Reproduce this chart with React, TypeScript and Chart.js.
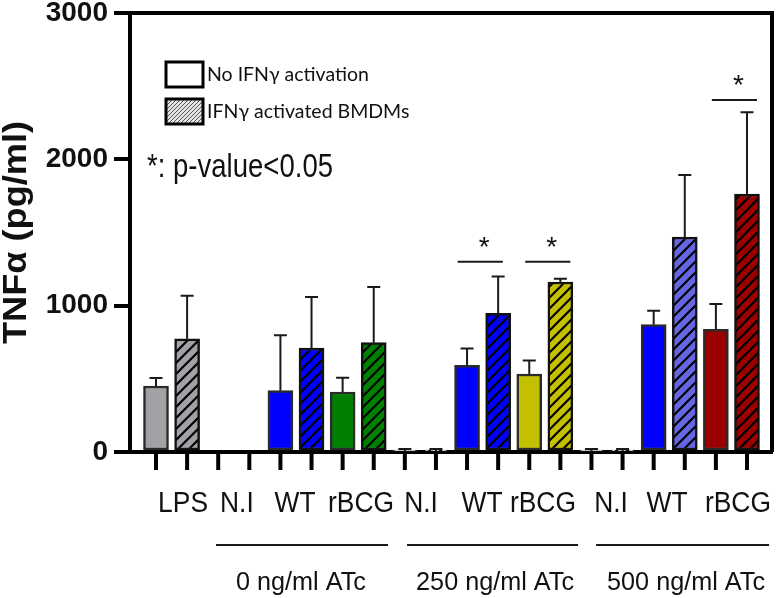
import { useEffect, useRef } from 'react';
import { Chart, registerables } from 'chart.js';

Chart.register(...registerables);

// ---- data ----
const groupNames = ['LPS', 'N.I', 'WT', 'rBCG', 'N.I', 'WT', 'rBCG', 'N.I', 'WT', 'rBCG'];
const groupLabelPos = [0.87, 2.6, 4.47, 6.59, 8.52, 10.48, 12.44, 14.63, 16.43, 18.71];
const noIfnMean = [451, 0, 419, 410, 5, 592, 533, 5, 870, 838];
const noIfnSD = [55, 0, 378, 98, 15, 116, 93, 15, 96, 173];
const ifnMean = [774, 0, 711, 747, 5, 948, 1162, 5, 1469, 1763];
const ifnSD = [294, 0, 348, 381, 15, 252, 22, 15, 424, 558];
const solidColors = ['#a2a2a6', '#ffffff', '#0000ff', '#008000', '#ffffff', '#0000ff', '#c4c000', '#ffffff', '#0000ff', '#9a0000'];
const hatchColors = ['#a2a2a6', '#ffffff', '#0000ff', '#008000', '#ffffff', '#0000ff', '#c4c000', '#ffffff', '#6666e4', '#9a0000'];
const atcLabels = ['0 ng/ml ATc', '250 ng/ml ATc', '500 ng/ml ATc'];
const atcSpans = [[1.93, 7.46], [8.07, 13.57], [14.15, 19.71]];
const atcLabelPos = [4.66, 10.9, 17.04];
const sigSpans = [[9.7, 11.15], [11.87, 13.32], [17.87, 19.32]];
const sigLevels = [1300, 1300, 2405];
const yTicks = [0, 1000, 2000, 3000];
const legendLabels = ['No IFN\u03b3 activation', 'IFN\u03b3 activated BMDMs'];
const yTitle = 'TNF\u03b1 (pg/ml)';
const noteText = '*: p-value<0.05';

function hatchPattern(color: string, tile: number, stroke: string, lw: number) {
  const c = document.createElement('canvas');
  c.width = tile;
  c.height = tile;
  const g = c.getContext('2d')!;
  g.fillStyle = color;
  g.fillRect(0, 0, tile, tile);
  g.strokeStyle = stroke;
  g.lineWidth = lw;
  g.beginPath();
  g.moveTo(-tile, tile * 2); g.lineTo(tile * 2, -tile);
  g.moveTo(-tile, tile); g.lineTo(tile, -tile);
  g.moveTo(0, tile * 2); g.lineTo(tile * 2, 0);
  g.stroke();
  return g.createPattern(c, 'repeat')!;
}

function drawText(ctx: CanvasRenderingContext2D, s: string, x: number, y: number, font: string, align: CanvasTextAlign, sx = 1) {
  ctx.save();
  ctx.font = font;
  ctx.translate(x, y);
  ctx.scale(sx, 1);
  ctx.textAlign = align;
  ctx.textBaseline = 'alphabetic';
  ctx.fillStyle = '#111';
  ctx.fillText(s, 0, 0);
  ctx.restore();
}

export default function App() {
  const ref = useRef<HTMLCanvasElement>(null);
  useEffect(() => {
    const canvas = ref.current!;
    const points: { x: number; y: number }[] = [];
    const fills: (string | CanvasPattern)[] = [];
    const borders: string[] = [];
    const sds: number[] = [];
    for (let g = 0; g < groupNames.length; g++) {
      points.push({ x: 2 * g, y: noIfnMean[g] });
      fills.push(solidColors[g]);
      borders.push('#2a2a2a');
      sds.push(noIfnSD[g]);
      points.push({ x: 2 * g + 1, y: ifnMean[g] });
      fills.push(hatchPattern(hatchColors[g], 11, '#000', 2.2));
      borders.push('#111');
      sds.push(ifnSD[g]);
    }

    const overlay = {
      id: 'overlay',
      afterDatasetsDraw(chart: any) {
        const { ctx, chartArea: a, scales } = chart;
        const x = scales.x, y = scales.y;
        ctx.save();
        // error bars
        ctx.strokeStyle = '#1a1a1a';
        ctx.lineWidth = 2;
        points.forEach((p, i) => {
          if (sds[i] <= 0) return;
          const px = x.getPixelForValue(p.x);
          const y0 = y.getPixelForValue(p.y);
          const y1 = y.getPixelForValue(p.y + sds[i]);
          ctx.beginPath();
          ctx.moveTo(px, y0);
          ctx.lineTo(px, y1);
          ctx.moveTo(px - 6.5, y1);
          ctx.lineTo(px + 6.5, y1);
          ctx.stroke();
        });
        // significance
        sigSpans.forEach((s, i) => {
          const yy = y.getPixelForValue(sigLevels[i]);
          const x0 = x.getPixelForValue(s[0]);
          const x1 = x.getPixelForValue(s[1]);
          ctx.beginPath();
          ctx.moveTo(x0, yy);
          ctx.lineTo(x1, yy);
          ctx.stroke();
          drawText(ctx, '*', (x0 + x1) / 2 + 4, yy - 6, '28px "Liberation Sans"', 'center');
        });
        // frame top & right
        ctx.strokeStyle = '#000';
        ctx.lineWidth = 4;
        ctx.beginPath();
        ctx.moveTo(a.left - 2, a.top);
        ctx.lineTo(a.right, a.top);
        ctx.lineTo(a.right, a.bottom);
        ctx.stroke();
        // x tick marks
        points.forEach((p) => {
          const px = x.getPixelForValue(p.x);
          ctx.beginPath();
          ctx.moveTo(px, a.bottom);
          ctx.lineTo(px, a.bottom + 18);
          ctx.stroke();
        });
        // category labels
        groupNames.forEach((n, i) => {
          drawText(ctx, n, x.getPixelForValue(groupLabelPos[i]), a.bottom + 60, '30px "Liberation Sans"', 'center', 0.88);
        });
        // ATc groups
        ctx.strokeStyle = '#1a1a1a';
        ctx.lineWidth = 2;
        atcSpans.forEach((s, i) => {
          const x0 = x.getPixelForValue(s[0]);
          const x1 = x.getPixelForValue(s[1]);
          ctx.beginPath();
          ctx.moveTo(x0, a.bottom + 93);
          ctx.lineTo(x1, a.bottom + 93);
          ctx.stroke();
          drawText(ctx, atcLabels[i], x.getPixelForValue(atcLabelPos[i]), a.bottom + 138, '26px "Liberation Sans"', 'center', 0.97);
        });
        // y title
        ctx.save();
        ctx.font = 'bold 34px "Liberation Sans"';
        const w = ctx.measureText(yTitle).width;
        ctx.translate(26, (a.top + a.bottom) / 2);
        ctx.rotate(-Math.PI / 2);
        ctx.scale(223 / w, 1);
        ctx.textAlign = 'center';
        ctx.textBaseline = 'alphabetic';
        ctx.fillStyle = '#111';
        ctx.fillText(yTitle, 0, 0);
        ctx.restore();
        // legend
        const boxX = a.left + 36;
        const boxYs = [a.top + 49, a.top + 86];
        const fillsL = ['#ffffff', hatchPattern('#e4e4e4', 4, '#555', 1)];
        boxYs.forEach((by, i) => {
          ctx.fillStyle = fillsL[i];
          ctx.fillRect(boxX, by, 37, 25);
          ctx.strokeStyle = '#000';
          ctx.lineWidth = 3;
          ctx.strokeRect(boxX, by, 37, 25);
          drawText(ctx, legendLabels[i], boxX + 41, by + 19, '19.5px Lato', 'left', 1);
        });
        drawText(ctx, noteText, a.left + 17, a.top + 164, '34px "Liberation Sans"', 'left', 0.81);
        ctx.restore();
      },
    };

    const chart = new Chart(canvas, {
      type: 'bar',
      data: {
        datasets: [
          {
            data: points as any,
            backgroundColor: fills as any,
            borderColor: borders,
            borderWidth: 2.5,
            barThickness: 25,
            borderSkipped: false,
          },
        ],
      },
      options: {
        responsive: false,
        animation: false,
        devicePixelRatio: 1,
        layout: { padding: { top: 13, right: 4, left: 0, bottom: 0 } },
        plugins: { legend: { display: false }, tooltip: { enabled: false } },
        scales: {
          x: {
            type: 'linear',
            offset: false,
            min: -0.836,
            max: 19.804,
            grid: { display: false, offset: false },
            border: { display: true, width: 4, color: '#000' },
            ticks: { display: false },
            afterFit(s: any) {
              s.height = 146;
              s.paddingLeft = 0;
              s.paddingRight = 0;
            },
          },
          y: {
            min: 0,
            max: 3000,
            afterBuildTicks(s: any) {
              s.ticks = yTicks.map((v) => ({ value: v }));
            },
            grid: { drawOnChartArea: false, drawTicks: true, tickLength: 16, lineWidth: 4, color: '#000' },
            border: { display: true, width: 4, color: '#000' },
            ticks: {
              color: '#111',
              padding: 6,
              font: { family: '"Liberation Sans"', weight: 'bold', size: 28 },
              callback: (v: any) => String(v),
            },
            afterFit(s: any) {
              s.width = 130;
              s.paddingTop = 0;
              s.paddingBottom = 0;
            },
          },
        },
      },
      plugins: [overlay],
    });
    return () => chart.destroy();
  }, []);
  return (
    <div style={{ position: 'absolute', left: 0, top: 0, width: 776, height: 598, background: '#fff' }}>
      <canvas ref={ref} width={776} height={598} />
    </div>
  );
}
